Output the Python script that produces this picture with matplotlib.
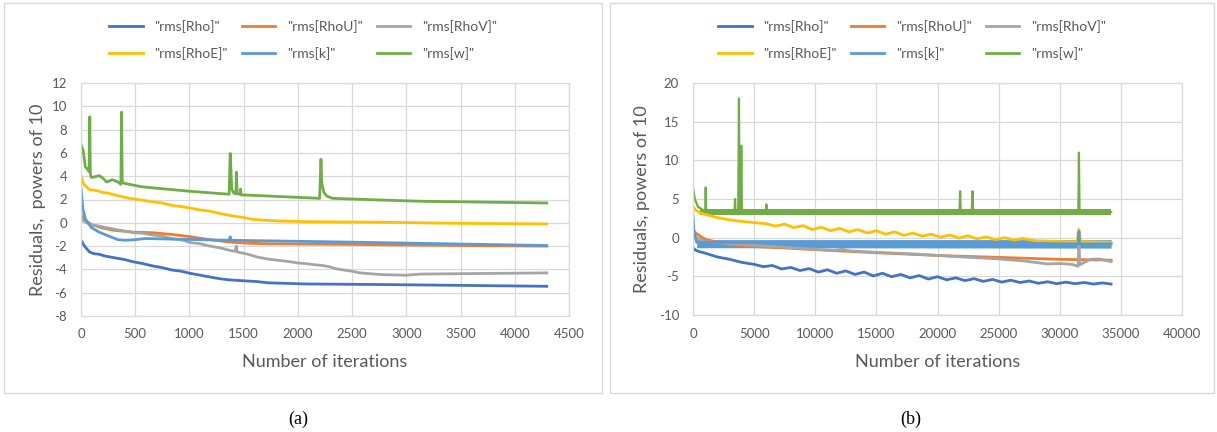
import numpy as np
import matplotlib
matplotlib.use('Agg')
import matplotlib.pyplot as plt
from matplotlib.lines import Line2D
from matplotlib.patches import Rectangle

plt.rcParams['font.family'] = ['Lato', 'DejaVu Sans']
plt.rcParams['axes.unicode_minus'] = False

# Excel-style colours
c_rho = '#4472C4'
c_rhou = '#ED7D31'
c_rhov = '#A5A5A5'
c_rhoe = '#FFC000'
c_k = '#5B9BD5'
c_w = '#70AD47'
c_grid = '#D9D9D9'
c_txt = '#595959'

labels = ['"rms[Rho]"', '"rms[RhoU]"', '"rms[RhoV]"', '"rms[RhoE]"', '"rms[k]"', '"rms[w]"']

#%% panel (a) data
a_rho_x = [0, 32, 78, 120, 166, 220, 307, 400, 483, 570, 660, 750, 836, 920, 1013, 1100, 1189, 1280, 1366, 1450, 1542, 1630, 1719, 2072, 2777, 4295]
a_rho_y = [-1.5, -2.0, -2.5, -2.65, -2.7, -2.85, -3.0, -3.15, -3.35, -3.5, -3.7, -3.85, -4.05, -4.15, -4.35, -4.5, -4.65, -4.8, -4.9, -4.95, -5.0, -5.05, -5.15, -5.25, -5.3, -5.45]

a_rhou_x = [0, 25, 95, 200, 307, 483, 660, 836, 1013, 1189, 1366, 1540, 1719, 2424, 3500, 4295]
a_rhou_y = [0.7, 0.3, -0.15, -0.45, -0.65, -0.8, -0.85, -1.0, -1.2, -1.45, -1.65, -1.75, -1.8, -1.85, -1.95, -2.0]

a_rhov_x = [0, 25, 95, 150, 200, 307, 400, 483, 570, 660, 750, 836, 920, 1013, 1100, 1189, 1280, 1366, 1420, 1433, 1440, 1542, 1630, 1719, 1800, 1895, 2000, 2072, 2150, 2213, 2280, 2354, 2420, 2495, 2570, 2636, 2777, 3000, 3130, 4295]
a_rhov_y = [0.45, 0.15, -0.2, -0.25, -0.35, -0.55, -0.7, -0.85, -0.9, -1.05, -1.15, -1.35, -1.45, -1.7, -1.8, -2.0, -2.15, -2.35, -2.45, -2.0, -2.5, -2.7, -2.95, -3.1, -3.2, -3.3, -3.45, -3.5, -3.6, -3.65, -3.75, -3.95, -4.05, -4.15, -4.3, -4.35, -4.45, -4.5, -4.4, -4.3]

a_rhoe_x = [0, 25, 78, 150, 200, 250, 307, 400, 483, 560, 660, 750, 836, 920, 1013, 1100, 1189, 1280, 1366, 1420, 1472, 1530, 1577, 1650, 1719, 1850, 2072, 2777, 3500, 4295]
a_rhoe_y = [4.0, 3.3, 2.85, 2.75, 2.6, 2.55, 2.4, 2.2, 2.05, 1.95, 1.8, 1.7, 1.5, 1.4, 1.25, 1.1, 1.0, 0.8, 0.65, 0.55, 0.5, 0.4, 0.3, 0.25, 0.2, 0.15, 0.1, 0.05, -0.05, -0.1]

a_k_x = [0, 18, 42, 95, 166, 272, 342, 413, 500, 590, 836, 1366, 1376, 1386, 2424, 4295]
a_k_y = [3.0, 1.15, 0.3, -0.4, -0.8, -1.2, -1.45, -1.5, -1.45, -1.35, -1.4, -1.5, -1.2, -1.5, -1.65, -1.95]

a_w_x = [0, 20, 40, 60, 75, 81, 86, 95, 130, 166, 200, 236, 290, 342, 368, 374, 380, 395, 448, 554, 660, 1013, 1366, 1376, 1390, 1408, 1428, 1433, 1440, 1468, 1472, 1476, 1719, 2200, 2213, 2220, 2240, 2266, 2319, 2777, 3130, 4295]
a_w_y = [6.7, 6.2, 4.8, 4.6, 4.4, 9.1, 4.2, 3.9, 3.95, 4.05, 3.85, 3.5, 3.7, 3.5, 3.3, 9.5, 3.5, 3.4, 3.3, 3.1, 3.0, 2.7, 2.45, 5.95, 2.9, 2.55, 2.5, 4.35, 2.5, 2.45, 2.9, 2.4, 2.3, 2.1, 5.45, 3.4, 2.6, 2.3, 2.1, 1.95, 1.85, 1.7]

#%% panel (b) data
b_rho_x = [0, 200, 500, 1000, 2000, 3000, 4000, 5000, 5750, 6500, 7250, 8000, 8750, 9500, 10250, 11000, 11750, 12500, 13250, 14000, 14750, 15500, 16250, 17000, 17750, 18500, 19250, 20000, 20750, 21500, 22250, 23000, 23750, 24500, 25250, 26000, 26750, 27500, 28250, 29000, 29750, 30500, 31250, 32000, 32750, 33500, 34200]
b_rho_y = [-1.3, -1.6, -1.8, -2.0, -2.5, -2.8, -3.2, -3.45, -3.75, -3.6, -4.05, -3.85, -4.25, -4.0, -4.45, -4.15, -4.6, -4.3, -4.75, -4.45, -4.95, -4.6, -5.05, -4.75, -5.2, -4.9, -5.35, -5.05, -5.45, -5.2, -5.55, -5.3, -5.65, -5.4, -5.75, -5.5, -5.8, -5.6, -5.9, -5.7, -5.95, -5.75, -5.95, -5.8, -6.0, -5.85, -6.0]

b_rhou_x = [0, 300, 1000, 2000, 3000, 5000, 7000, 10000, 15000, 20000, 25000, 30000, 34200]
b_rhou_y = [1.0, 0.5, -0.2, -0.6, -0.9, -1.15, -1.3, -1.55, -1.95, -2.3, -2.55, -2.8, -2.9]

b_rhov_x = [0, 300, 1000, 3000, 5000, 8000, 10000, 11500, 12200, 12800, 15000, 18000, 21000, 25000, 27000, 28500, 29000, 30000, 31000, 31500, 31570, 31650, 32500, 33200, 34200]
b_rhov_y = [0.6, 0.0, -0.5, -0.8, -1.0, -1.3, -1.5, -1.65, -1.5, -1.7, -1.9, -2.1, -2.4, -2.75, -3.0, -3.3, -3.4, -3.35, -3.45, -3.7, -1.0, -3.5, -2.8, -2.75, -3.1]

b_rhoe_x = [0, 200, 600, 1000, 2000, 3000, 4000, 5000, 6000, 6750, 7500, 8250, 9000, 9750, 10500, 11250, 12000, 12750, 13500, 14250, 15000, 15750, 16500, 17250, 18000, 18750, 19500, 20250, 21000, 21750, 22500, 23250, 24000, 24750, 25500, 26250, 27000, 28000, 30000, 31400, 31570, 31700, 34200]
b_rhoe_y = [4.0, 3.6, 3.2, 3.0, 2.6, 2.3, 2.1, 1.95, 1.8, 1.5, 1.75, 1.3, 1.55, 1.05, 1.35, 0.9, 1.2, 0.75, 1.05, 0.6, 0.9, 0.45, 0.75, 0.3, 0.6, 0.2, 0.45, 0.05, 0.35, -0.05, 0.25, -0.15, 0.1, -0.25, 0.0, -0.3, -0.1, -0.4, -0.5, -0.55, 1.1, -0.5, -0.6]

b_k_x = [0, 100, 300, 31520, 31570, 31620, 34200]
b_k_y = [2.8, 0.5, -0.6, -0.8, 0.8, -0.8, -0.8]
b_k_band_x = [300, 34200]
b_k_band_lo = [-1.3, -1.35]
b_k_band_hi = [-0.25, -0.25]

b_w_x = [0, 150, 400, 800, 1000, 1040, 1080, 3400, 3440, 3480, 3700, 3760, 3800, 3900, 3950, 4000, 5950, 6000, 6050, 21800, 21850, 21900, 22800, 22860, 22920, 31520, 31570, 31620, 34200]
b_w_y = [6.5, 5.0, 4.0, 3.6, 3.4, 6.5, 3.4, 3.3, 5.0, 3.3, 3.3, 18.0, 3.3, 3.3, 11.9, 3.3, 3.3, 4.3, 3.3, 3.3, 6.0, 3.3, 3.3, 6.0, 3.3, 3.3, 11.0, 3.3, 3.3]
b_w_band_x = [600, 34200]
b_w_band_lo = [2.9, 2.9]
b_w_band_hi = [3.65, 3.65]

#%% figure
W, H = 1217, 432
fig = plt.figure(figsize=(W/100, H/100), dpi=100)

def box(x0, x1, y0, y1):
    # figure-pixel box -> figure fraction
    return [x0/W, 1 - y1/H, (x1 - x0)/W, (y1 - y0)/H]

ax_a = fig.add_axes(box(81, 569, 83, 316))
ax_b = fig.add_axes(box(693, 1182, 83, 315))

lw = 2.0
ax_a.plot(a_rho_x, a_rho_y, color=c_rho, lw=lw)
ax_a.plot(a_rhou_x, a_rhou_y, color=c_rhou, lw=lw)
ax_a.plot(a_rhov_x, a_rhov_y, color=c_rhov, lw=lw)
ax_a.plot(a_rhoe_x, a_rhoe_y, color=c_rhoe, lw=lw)
ax_a.plot(a_k_x, a_k_y, color=c_k, lw=lw)
ax_a.plot(a_w_x, a_w_y, color=c_w, lw=lw)

ax_b.plot(b_rho_x, b_rho_y, color=c_rho, lw=lw)
ax_b.plot(b_rhou_x, b_rhou_y, color=c_rhou, lw=lw)
ax_b.plot(b_rhov_x, b_rhov_y, color=c_rhov, lw=lw)
ax_b.plot(b_rhoe_x, b_rhoe_y, color=c_rhoe, lw=lw)
ax_b.fill_between(b_k_band_x, b_k_band_lo, b_k_band_hi, color=c_k, lw=0)
ax_b.plot(b_k_x, b_k_y, color=c_k, lw=lw)
ax_b.fill_between(b_w_band_x, b_w_band_lo, b_w_band_hi, color=c_w, lw=0)
ax_b.plot(b_w_x, b_w_y, color=c_w, lw=1.6)

ax_a.set_xlim(0, 4500)
ax_a.set_ylim(-8, 12)
ax_a.set_xticks(np.arange(0, 4501, 500))
ax_a.set_yticks(np.arange(-8, 13, 2))
ax_b.set_xlim(0, 40000)
ax_b.set_ylim(-10, 20)
ax_b.set_xticks(np.arange(0, 40001, 5000))
ax_b.set_yticks(np.arange(-10, 21, 5))

for ax, ylab in [(ax_a, 'Residuals,  powers of 10'), (ax_b, 'Residuals, powers of 10')]:
    ax.grid(True, color=c_grid, lw=0.9)
    ax.set_axisbelow(True)
    for s in ax.spines.values():
        s.set_color(c_grid)
        s.set_linewidth(0.9)
    ax.tick_params(length=0, colors=c_txt, labelsize=9.5)
    ax.tick_params(axis='y', pad=10)
    ax.tick_params(axis='x', pad=9)
    ax.set_xlabel('Number of iterations', fontsize=13, color=c_txt, va='center')
    ax.set_ylabel(ylab, fontsize=13, color=c_txt, va='center')

ax_a.xaxis.set_label_coords(0.5, (316 - 362) / 233)
ax_a.yaxis.set_label_coords((38 - 81) / 488, 0.5)
ax_b.xaxis.set_label_coords(0.5, (315 - 362) / 232)
ax_b.yaxis.set_label_coords((642 - 693) / 489, 0.5)

# legends, filled column by column -> reorder to get Excel's row order
cols = [c_rho, c_rhou, c_rhov, c_rhoe, c_k, c_w]
order = [0, 3, 1, 4, 2, 5]
handles = [Line2D([], [], color=cols[i], lw=lw) for i in order]
labs = [labels[i] for i in order]
for cx in [303, 912]:
    fig.legend(handles, labs, ncol=3, loc='center', bbox_to_anchor=(cx/W, 1 - 40/H),
               frameon=False, fontsize=10, handlelength=2.4, handletextpad=0.85,
               columnspacing=1.0, labelspacing=1.05, labelcolor=c_txt)

# chart borders
for x0, x1 in [(4, 602), (610, 1214)]:
    fig.patches.append(Rectangle((x0/W, 1 - 393/H), (x1 - x0)/W, (393 - 3)/H,
                                 transform=fig.transFigure, fill=False, ec=c_grid, lw=1))

fig.text(298/W, 1 - 419/H, '(a)', family='Liberation Serif', fontsize=13, ha='center', va='center')
fig.text(911/W, 1 - 419/H, '(b)', family='Liberation Serif', fontsize=13, ha='center', va='center')

fig.savefig('out.png', dpi=100)
